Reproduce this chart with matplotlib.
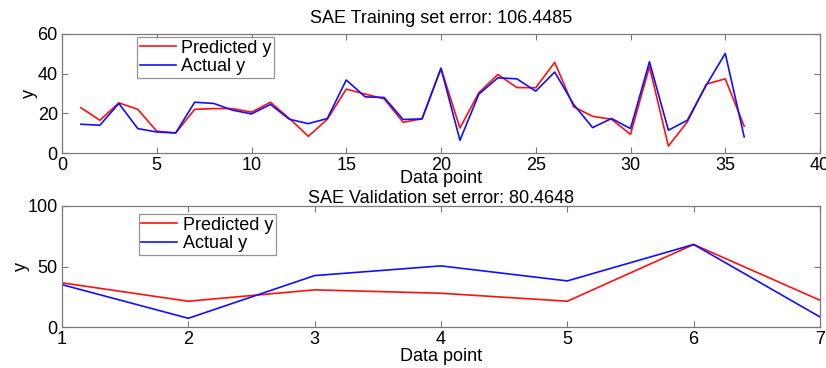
import matplotlib
matplotlib.use("Agg")
import matplotlib.pyplot as plt
import numpy as np

plt.rcParams['font.family'] = ['Liberation Sans', 'DejaVu Sans']

train_x = list(range(1, 37))
train_pred = [22.8, 16.5, 25.3, 22.0, 11.0, 10.1, 22.0, 22.4, 22.4, 20.6, 25.6, 17.4,
              8.4, 17.0, 32.2, 29.7, 27.3, 15.5, 17.2, 42.7, 12.6, 30.4, 39.6, 33.0,
              32.9, 45.7, 23.3, 18.5, 17.0, 9.4, 43.5, 3.5, 15.7, 34.7, 37.4, 13.5]
train_act = [14.5, 14.0, 25.0, 12.3, 10.6, 10.1, 25.6, 25.0, 21.6, 19.7, 24.5, 17.0,
             14.8, 17.4, 36.8, 28.3, 28.0, 16.9, 17.2, 42.7, 6.4, 29.7, 37.9, 37.4,
             31.2, 40.8, 24.5, 12.8, 17.4, 12.3, 46.0, 11.5, 16.5, 34.2, 50.2, 8.1]

val_x = [1, 2, 3, 4, 5, 6, 7]
val_pred = [36.5, 21.3, 30.7, 27.9, 21.3, 68.2, 22.1]
val_act = [35.0, 7.2, 42.5, 50.5, 38.1, 68.2, 8.3]

train_title = "SAE Training set error: 106.4485"
val_title = "SAE Validation set error: 80.4648"

fig = plt.figure(figsize=(8.26, 3.68), dpi=100)
W, H = 826, 368
ax1 = fig.add_axes([62 / W, 1 - 153 / H, (820 - 62) / W, (153 - 34) / H])
ax2 = fig.add_axes([62 / W, 1 - 327 / H, (820 - 62) / W, (327 - 206) / H])

fs = 13
spine_col = '#7a7a7a'

def style(ax):
    for s in ax.spines.values():
        s.set_color(spine_col)
        s.set_linewidth(0.9)
    ax.tick_params(direction='in', top=True, right=True, length=4,
                   color=spine_col, labelsize=fs, pad=3)

ax1.plot(train_x, train_pred, color='#ff1010', lw=1.2, label='Predicted y')
ax1.plot(train_x, train_act, color='#1010ff', lw=1.2, label='Actual y')
ax1.set_xlim(0, 40)
ax1.set_ylim(0, 60)
ax1.set_xticks([0, 5, 10, 15, 20, 25, 30, 35, 40])
ax1.set_yticks([0, 20, 40, 60])
style(ax1)
ax1.set_title(train_title, fontsize=fs, pad=8)
ax1.set_xlabel('Data point', fontsize=fs, labelpad=-3)
ax1.set_ylabel('y', fontsize=fs, labelpad=0)
leg1 = ax1.legend(loc='upper left', bbox_to_anchor=(0.099, 0.975), fontsize=fs,
                  frameon=True, fancybox=False, edgecolor=spine_col,
                  handlelength=2.0, borderpad=0.15, labelspacing=0.1,
                  handletextpad=0.3, borderaxespad=0)
leg1.get_frame().set_linewidth(0.9)

ax2.plot(val_x, val_pred, color='#ff1010', lw=1.2, label='Predicted y')
ax2.plot(val_x, val_act, color='#1010ff', lw=1.2, label='Actual y')
ax2.set_xlim(1, 7)
ax2.set_ylim(0, 100)
ax2.set_xticks([1, 2, 3, 4, 5, 6, 7])
ax2.set_yticks([0, 50, 100])
style(ax2)
ax2.set_title(val_title, fontsize=fs, pad=2)
ax2.set_xlabel('Data point', fontsize=fs, labelpad=0)
ax2.set_ylabel('y', fontsize=fs, labelpad=-2)
leg2 = ax2.legend(loc='upper left', bbox_to_anchor=(0.101, 0.935), fontsize=fs,
                  frameon=True, fancybox=False, edgecolor=spine_col,
                  handlelength=2.0, borderpad=0.15, labelspacing=0.1,
                  handletextpad=0.3, borderaxespad=0)
leg2.get_frame().set_linewidth(0.9)

fig.savefig('out.png', dpi=100)
